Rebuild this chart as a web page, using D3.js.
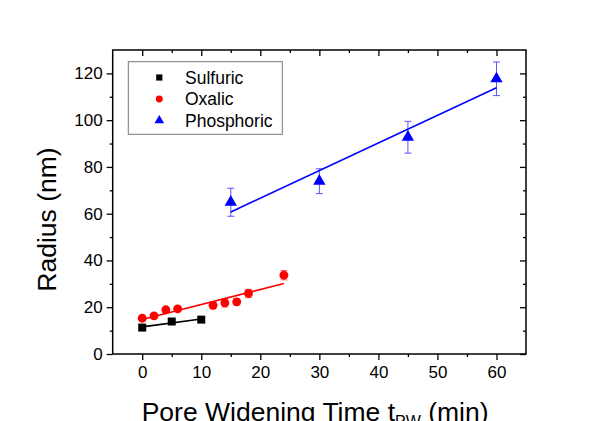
<!DOCTYPE html>
<html>
<head>
<meta charset="utf-8">
<script src="https://cdn.jsdelivr.net/npm/d3@7"></script>
<style>
  body { margin: 0; background: #fff; }
  svg { display: block; font-family: Arial, "Liberation Sans", sans-serif; }
</style>
</head>
<body>
<svg id="chart" width="597" height="421"></svg>
<script>
// values
var sulfuricX = [0, 5, 10],
    sulfuricY = [11.3, 13.9, 14.7],
    sulfuricErr = [0.8, 0.5, 0.6];
var oxalicX = [0, 2, 4, 6, 12, 14, 16, 18, 24],
    oxalicY = [15.3, 16.3, 18.9, 19.3, 20.8, 21.9, 22.3, 25.9, 33.7],
    oxalicErr = [1.0, 0.8, 1.0, 1.0, 1.5, 1.8, 1.3, 1.8, 2.0];
var phosX = [15, 30, 45, 60],
    phosY = [64.9, 73.9, 92.7, 117.7],
    phosErr = [6.0, 5.3, 6.8, 7.2];
var seriesNames = ["Sulfuric", "Oxalic", "Phosphoric"];
var xTicks = [0, 10, 20, 30, 40, 50, 60],
    xMinor = [5, 15, 25, 35, 45, 55],
    yTicks = [0, 20, 40, 60, 80, 100, 120],
    yMinor = [10, 30, 50, 70, 90, 110];

var svg = d3.select("#chart"),
    plotL = 112.7, plotR = 526, plotT = 50, plotB = 354;

var x = d3.scaleLinear().domain([-5, 65]).range([plotL, plotR]),
    y = d3.scaleLinear().domain([0, 130]).range([plotB, plotT]);

var series = [
  {name: seriesNames[0], xs: sulfuricX, ys: sulfuricY, err: sulfuricErr, color: "#000", bar: "#555", sym: d3.symbolSquare, size: 64},
  {name: seriesNames[1], xs: oxalicX, ys: oxalicY, err: oxalicErr, color: "#f00", bar: "#f66", sym: d3.symbolCircle, size: 62},
  {name: seriesNames[2], xs: phosX, ys: phosY, err: phosErr, color: "#00f", bar: "#55f", sym: d3.symbolTriangle, size: 66}
];

// least squares fit for each series
function fit(xs, ys) {
  var mx = d3.mean(xs), my = d3.mean(ys), sxy = 0, sxx = 0;
  xs.forEach(function(v, i) { sxy += (v - mx) * (ys[i] - my); sxx += (v - mx) * (v - mx); });
  var b = sxy / sxx, a = my - b * mx;
  var x0 = d3.min(xs), x1 = d3.max(xs);
  return [[x0, a + b * x0], [x1, a + b * x1]];
}

// axes
function axisStyle(g) {
  g.select(".domain").remove();
  g.selectAll("line").attr("stroke", "#000").attr("stroke-width", 1.3);
  g.selectAll("text").attr("font-size", "17px").attr("fill", "#000")
    .attr("font-family", "Arial, 'Liberation Sans', sans-serif");
}
svg.append("g").attr("transform", "translate(0," + plotB + ")")
  .call(d3.axisBottom(x).tickValues(xTicks).tickSize(6).tickPadding(6).tickFormat(d3.format("d")))
  .call(axisStyle);
svg.append("g").attr("transform", "translate(0," + plotB + ")")
  .call(d3.axisBottom(x).tickValues(xMinor).tickSize(3).tickFormat(""))
  .call(axisStyle);
svg.append("g").attr("transform", "translate(0," + plotT + ")")
  .call(d3.axisBottom(x).tickValues(xTicks).tickSize(6).tickFormat(""))
  .call(axisStyle);
svg.append("g").attr("transform", "translate(0," + plotT + ")")
  .call(d3.axisBottom(x).tickValues(xMinor).tickSize(3).tickFormat(""))
  .call(axisStyle);
svg.append("g").attr("transform", "translate(" + plotL + ",0)")
  .call(d3.axisLeft(y).tickValues(yTicks).tickSize(6).tickPadding(4).tickFormat(d3.format("d")))
  .call(axisStyle);
svg.append("g").attr("transform", "translate(" + plotL + ",0)")
  .call(d3.axisLeft(y).tickValues(yMinor).tickSize(3).tickFormat(""))
  .call(axisStyle);
svg.append("g").attr("transform", "translate(" + plotR + ",0)")
  .call(d3.axisLeft(y).tickValues(yTicks).tickSize(6).tickFormat(""))
  .call(axisStyle);
svg.append("g").attr("transform", "translate(" + plotR + ",0)")
  .call(d3.axisLeft(y).tickValues(yMinor).tickSize(3).tickFormat(""))
  .call(axisStyle);

svg.append("rect").attr("x", plotL).attr("y", plotT)
  .attr("width", plotR - plotL).attr("height", plotB - plotT)
  .attr("fill", "none").attr("stroke", "#000").attr("stroke-width", 1.5);

var line = d3.line().x(function(d) { return x(d[0]); }).y(function(d) { return y(d[1]); });

series.forEach(function(s) {
  var pts = s.xs.map(function(v, i) { return {x: v, y: s.ys[i], e: s.err[i]}; });
  var g = svg.append("g");
  // error bars
  var eb = g.selectAll(".eb").data(pts).enter().append("g")
    .attr("stroke", s.bar).attr("stroke-width", 1).attr("fill", "none");
  eb.append("line").attr("x1", function(d) { return x(d.x); }).attr("x2", function(d) { return x(d.x); })
    .attr("y1", function(d) { return y(d.y - d.e); }).attr("y2", function(d) { return y(d.y + d.e); });
  eb.append("line").attr("x1", function(d) { return x(d.x) - 3.5; }).attr("x2", function(d) { return x(d.x) + 3.5; })
    .attr("y1", function(d) { return y(d.y + d.e); }).attr("y2", function(d) { return y(d.y + d.e); });
  eb.append("line").attr("x1", function(d) { return x(d.x) - 3.5; }).attr("x2", function(d) { return x(d.x) + 3.5; })
    .attr("y1", function(d) { return y(d.y - d.e); }).attr("y2", function(d) { return y(d.y - d.e); });
  // fit line
  g.append("path").attr("d", line(fit(s.xs, s.ys)))
    .attr("stroke", s.color).attr("stroke-width", 1.6).attr("fill", "none");
  // markers
  g.selectAll(".pt").data(pts).enter().append("path")
    .attr("d", d3.symbol().type(s.sym).size(s.size))
    .attr("transform", function(d) { return "translate(" + x(d.x) + "," + y(d.y) + ")"; })
    .attr("fill", s.color);
});

// legend
var lg = svg.append("g");
lg.append("rect").attr("x", 128.3).attr("y", 61.7).attr("width", 154).attr("height", 72.6)
  .attr("fill", "#fff").attr("stroke", "#777").attr("stroke-width", 1);
series.forEach(function(s, i) {
  var cy = 77.5 + i * 21.5;
  lg.append("path").attr("d", d3.symbol().type(s.sym).size(s.size * 0.6))
    .attr("transform", "translate(159.3," + cy + ")").attr("fill", s.color);
  lg.append("text").attr("x", 185).attr("y", cy + 6).attr("font-size", "17.5px").text(s.name);
});

// axis titles
svg.append("text").attr("transform", "translate(56,219.5) rotate(-90)")
  .attr("text-anchor", "middle").attr("font-size", "26.5px").text("Radius (nm)");
var xt = svg.append("text").attr("x", 141.7).attr("y", 420.5).attr("font-size", "26.5px");
xt.append("tspan").text("Pore Widening Time t");
xt.append("tspan").attr("font-size", "16px").attr("dy", 6).text("PW");
xt.append("tspan").attr("dy", -6).text(" (min)");
</script>
</body>
</html>
